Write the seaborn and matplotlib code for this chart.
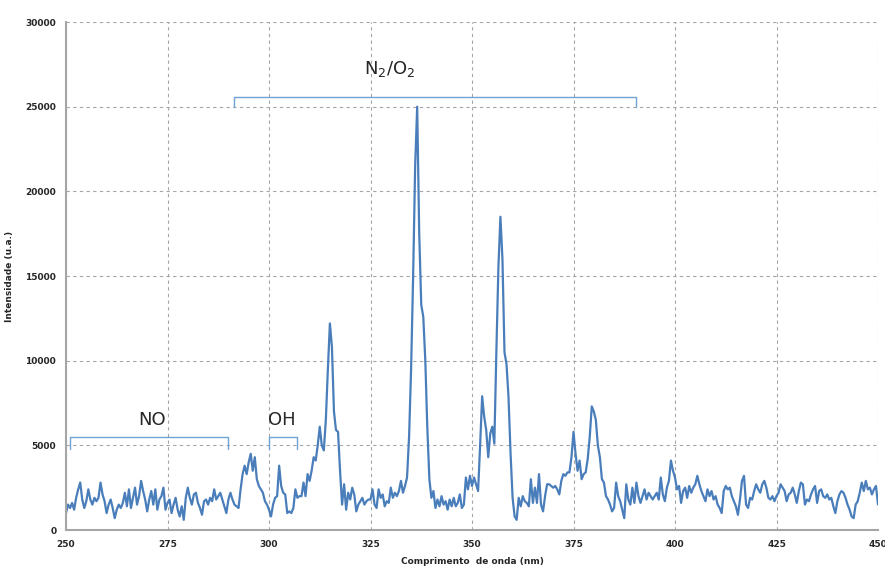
import numpy as np
import pandas as pd
import seaborn as sns
import matplotlib.pyplot as plt
from matplotlib.ticker import MultipleLocator

# wavelength grid (nm), one sample every 0.5 nm
wavelength = np.arange(250, 450.5, 0.5)

# intensity (a.u.) in 25 nm blocks
block_250 = [1000, 1500, 1300, 1600, 1200, 1900, 2400, 2800, 1800, 1300,
             1700, 2400, 1800, 1500, 1900, 1700, 1900, 2800, 2100, 1700,
             1000, 1500, 1800, 1300, 700, 1200, 1500, 1300, 1600, 2200,
             1400, 2400, 1300, 1900, 2500, 1500, 2000, 2900, 2300, 1800,
             1100, 1800, 2300, 1500, 2400, 1200, 1800, 2000, 2500, 1200]
block_275 = [1600, 1800, 1000, 1500, 1900, 1200, 800, 1400, 600, 1900,
             2500, 1900, 1500, 2100, 2200, 1600, 1300, 900, 1700, 1800,
             1500, 1900, 1700, 2400, 1800, 2000, 2200, 1800, 1400, 1000,
             1800, 2200, 1800, 1500, 1400, 1300, 2400, 3300, 3800, 3300,
             4000, 4500, 3500, 4300, 3000, 2600, 2400, 2200, 1700, 1500]
block_300 = [1200, 800, 1500, 1900, 2000, 3800, 2600, 2200, 2100, 1000,
             1100, 1000, 1300, 2400, 1900, 2000, 2000, 2800, 2000, 3300,
             2900, 3500, 4300, 4100, 5000, 6100, 5000, 4700, 6500, 9500,
             12200, 10800, 7000, 5900, 5800, 3500, 1500, 2700, 1200, 2200,
             1800, 2500, 2100, 1100, 1500, 1700, 1900, 1500, 1700, 1800]
block_325 = [1800, 2400, 1500, 1300, 2400, 1900, 2100, 1400, 1700, 1600,
             2500, 1900, 2200, 2000, 2300, 2900, 2200, 2600, 3100, 5500,
             9500, 15000, 21500, 25000, 17500, 13300, 12600, 10000, 6000, 3000,
             1900, 2300, 1300, 1800, 1400, 2000, 1500, 1700, 1200, 1800,
             1400, 1900, 1400, 1600, 2100, 1300, 1500, 3100, 2400, 3200]
block_350 = [2600, 3100, 2700, 2300, 5000, 7900, 6700, 5900, 4300, 5700,
             6100, 5100, 10500, 15500, 18500, 16000, 10500, 9800, 7800, 4500,
             1900, 800, 600, 1900, 1400, 2000, 1700, 1600, 1400, 3000,
             1600, 2500, 1600, 3300, 1500, 1100, 2000, 2700, 2700, 2600,
             2500, 2600, 2400, 2100, 2900, 3300, 3200, 3400, 3400, 4300]
block_375 = [5800, 4500, 3500, 4100, 3000, 3300, 3400, 4200, 5500, 7300,
             7000, 6500, 5000, 4300, 3000, 2800, 2000, 1800, 1500, 1100,
             1300, 2800, 2000, 1700, 1200, 700, 2700, 1800, 1500, 2500,
             1600, 2800, 2000, 1600, 2000, 2400, 1800, 2200, 2000, 1800,
             2000, 2200, 1800, 3100, 2100, 1700, 2500, 2900, 4100, 3500]
block_400 = [3100, 2400, 2600, 1600, 2300, 2500, 1900, 2600, 2200, 2500,
             2700, 3200, 2700, 2300, 2000, 1700, 2400, 2000, 2300, 1800,
             2000, 1500, 1300, 1000, 2300, 2600, 2400, 2500, 2000, 1700,
             1400, 900, 1800, 2900, 3200, 1500, 1300, 1900, 1800, 2300,
             2700, 2400, 2200, 2700, 2900, 2500, 1900, 1800, 2000, 1700]
block_425 = [2000, 2200, 2700, 2500, 2300, 1700, 2100, 2200, 2500, 2100,
             1600, 2300, 2800, 2700, 1500, 1800, 1700, 2100, 2400, 2600,
             1600, 2300, 2400, 2000, 1900, 2100, 1800, 1900, 1400, 1000,
             1700, 2100, 2300, 2200, 1900, 1500, 1200, 800, 700, 1500,
             1700, 2200, 2800, 2300, 2900, 2400, 2500, 2100, 2400, 2600, 1500]

intensity = np.concatenate([block_250, block_275, block_300, block_325,
                            block_350, block_375, block_400, block_425])

# emission band groups: label, start nm, end nm, bracket level
band_labels = ["NO", "OH", "N$_2$/O$_2$"]
band_start = [251.0, 300.0, 291.5]
band_end = [289.8, 306.8, 390.5]
band_level = [5500, 5500, 25600]

df = pd.DataFrame({"wavelength": wavelength, "intensity": intensity})

sns.set_theme(style="white")
plt.rcParams['font.family'] = ['DejaVu Sans']

fig = plt.figure(figsize=(8.85, 5.69), dpi=100)
ax = fig.add_axes([66/885, 1 - 530/569, (878 - 66)/885, (530 - 22)/569])

sns.lineplot(data=df, x="wavelength", y="intensity", color="#4a7ebb",
             linewidth=1.6, ax=ax)

ax.set_xlim(250, 450)
ax.set_ylim(0, 30000)
ax.set_xticks(range(250, 451, 25))
ax.set_yticks(range(0, 30001, 5000))
ax.xaxis.set_minor_locator(MultipleLocator(5))
ax.yaxis.set_minor_locator(MultipleLocator(1000))
ax.grid(True, which="major", color="#a6a6a6", linestyle=(0, (3, 3)), linewidth=0.8)

for s in ["top", "right"]:
    ax.spines[s].set_visible(False)
for s in ["left", "bottom"]:
    ax.spines[s].set_color("#a6a6a6")
    ax.spines[s].set_linewidth(1.5)

ax.tick_params(which="major", direction="out", length=4, width=0.8,
               color="#a6a6a6", labelsize=6.5, pad=3)
ax.tick_params(which="minor", direction="out", length=2.5, width=0.8,
               color="#a6a6a6")
for lab in ax.get_xticklabels() + ax.get_yticklabels():
    lab.set_fontweight("bold")

ax.set_xlabel("Comprimento  de onda (nm)", fontsize=6.5, fontweight="bold", labelpad=6)
ax.set_ylabel("Intensidade (u.a.)", fontsize=6.5, fontweight="bold", labelpad=8)

# brackets marking the emission bands
for lab, x0, x1, yl in zip(band_labels, band_start, band_end, band_level):
    drop = 700 if yl < 10000 else 600
    ax.plot([x0, x0, x1, x1], [yl - drop, yl, yl, yl - drop],
            color="#6fa3d8", linewidth=1.0, clip_on=False)

ax.text(271.1, 6500, "NO", fontsize=13, ha="center", va="center")
ax.text(303.2, 6500, "OH", fontsize=13, ha="center", va="center")
ax.text(329.8, 27200, "N$_2$/O$_2$", fontsize=13, ha="center", va="center")

fig.savefig("out.png", dpi=100)
plt.close(fig)
